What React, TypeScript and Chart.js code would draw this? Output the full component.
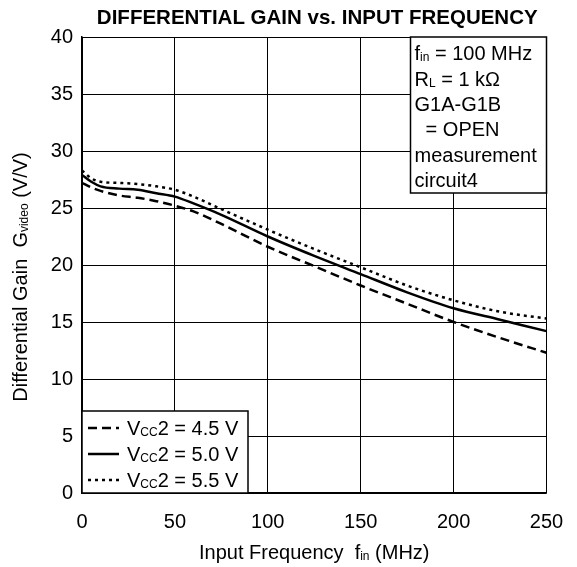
import React, { useEffect, useRef } from "react";
import { Chart, registerables } from "chart.js";

Chart.register(...registerables);

const freqMHz = [0, 5, 10, 20, 30, 40, 50, 60, 75, 100, 125, 150, 175, 200, 225, 250];
const gainVcc45 = [27.2, 26.8, 26.5, 26.1, 25.9, 25.6, 25.2, 24.7, 23.6, 21.6, 19.9, 18.2, 16.6, 15.0, 13.6, 12.3];
const gainVcc50 = [27.9, 27.3, 26.9, 26.7, 26.6, 26.3, 26.0, 25.4, 24.4, 22.5, 20.8, 19.2, 17.6, 16.2, 15.2, 14.2];
const gainVcc55 = [28.3, 27.6, 27.3, 27.2, 27.1, 26.9, 26.6, 26.0, 24.9, 23.1, 21.4, 19.8, 18.2, 16.9, 15.9, 15.3];

const seriesValues = ["4.5", "5.0", "5.5"];
const seriesDashes = [[9, 5], [], [3, 4]];

const xMin = 0, xMax = 250, xStep = 50;
const yMin = 0, yMax = 40, yStep = 5;

const chartTitle = "DIFFERENTIAL GAIN vs. INPUT FREQUENCY";
type Seg = { t: string; sub?: boolean };
const yTitle: Seg[] = [{ t: "Differential Gain  G" }, { t: "video", sub: true }, { t: " (V/V)" }];
const xTitle: Seg[] = [{ t: "Input Frequency  f" }, { t: "in", sub: true }, { t: " (MHz)" }];
const noteLines: Seg[][] = [
  [{ t: "f" }, { t: "in", sub: true }, { t: " = 100 MHz" }],
  [{ t: "R" }, { t: "L", sub: true }, { t: " = 1 k\u03A9" }],
  [{ t: "G1A-G1B" }],
  [{ t: "  = OPEN" }],
  [{ t: "measurement" }],
  [{ t: "circuit4" }],
];

const FONT = '"Liberation Sans", Arial, Helvetica, sans-serif';
const FS = 20;

function richWidth(ctx: CanvasRenderingContext2D, segs: Seg[], size: number) {
  let w = 0;
  for (const s of segs) {
    ctx.font = `${s.sub ? Math.round(size * 0.62) : size}px ${FONT}`;
    w += ctx.measureText(s.t).width;
  }
  return w;
}

function drawRich(ctx: CanvasRenderingContext2D, segs: Seg[], x: number, y: number, size: number) {
  ctx.textBaseline = "alphabetic";
  ctx.textAlign = "left";
  const base = y + size * 0.36;
  let cx = x;
  for (const s of segs) {
    const sz = s.sub ? Math.round(size * 0.62) : size;
    ctx.font = `${sz}px ${FONT}`;
    ctx.fillText(s.t, cx, s.sub ? base + size * 0.05 : base);
    cx += ctx.measureText(s.t).width;
  }
}

const overlay = {
  id: "overlay",
  afterDraw(chart: any) {
    const ctx: CanvasRenderingContext2D = chart.ctx;
    const ca = chart.chartArea;
    ctx.save();
    ctx.fillStyle = "#000";
    ctx.font = `bold 20.5px ${FONT}`;
    ctx.textAlign = "center";
    ctx.textBaseline = "middle";
    ctx.fillText(chartTitle, (ca.left + ca.right) / 2 + 3, 18);

    const xw = richWidth(ctx, xTitle, FS);
    drawRich(ctx, xTitle, (ca.left + ca.right) / 2 - xw / 2, 552, FS);

    const yw = richWidth(ctx, yTitle, FS);
    ctx.save();
    ctx.translate(20, (ca.top + ca.bottom) / 2 + 12);
    ctx.rotate(-Math.PI / 2);
    drawRich(ctx, yTitle, -yw / 2, 0, FS);
    ctx.restore();

    const bw = 136, bh = 156;
    const bx = ca.right - bw, by = ca.top;
    ctx.fillStyle = "#fff";
    ctx.fillRect(bx, by, bw, bh);
    ctx.strokeStyle = "#000";
    ctx.lineWidth = 1.5;
    ctx.strokeRect(bx, by, bw, bh);
    ctx.fillStyle = "#000";
    noteLines.forEach((ln, i) => drawRich(ctx, ln, bx + 4, by + 16 + i * 25.4, FS));

    const lx = ca.left, lw = 166, lh = 82, ly = ca.bottom - lh;
    ctx.fillStyle = "#fff";
    ctx.fillRect(lx, ly, lw, lh);
    ctx.strokeRect(lx, ly, lw, lh);
    chart.data.datasets.forEach((ds: any, i: number) => {
      const cy = ly + 17 + i * 26;
      ctx.save();
      ctx.strokeStyle = "#000";
      ctx.lineWidth = 2.5;
      ctx.setLineDash(ds.borderDash || []);
      ctx.beginPath();
      ctx.moveTo(lx + 6, cy);
      ctx.lineTo(lx + 37, cy);
      ctx.stroke();
      ctx.restore();
      ctx.fillStyle = "#000";
      drawRich(ctx, [{ t: "V" }, { t: "CC", sub: true }, { t: `2 = ${seriesValues[i]} V` }], lx + 45, cy, FS);
    });
    ctx.restore();
  },
};

export default function App() {
  const ref = useRef<HTMLCanvasElement>(null);
  useEffect(() => {
    if (!ref.current) return;
    const series = [gainVcc45, gainVcc50, gainVcc55];
    const chart = new Chart(ref.current, {
      type: "line",
      data: {
        datasets: series.map((vals, i) => ({
          label: `VCC2 = ${seriesValues[i]} V`,
          data: freqMHz.map((f, j) => ({ x: f, y: vals[j] })),
          borderColor: "#000",
          borderWidth: 2.5,
          borderDash: seriesDashes[i],
          pointRadius: 0,
          fill: false,
          cubicInterpolationMode: "monotone" as const,
        })),
      },
      options: {
        responsive: false,
        animation: false,
        layout: { padding: { top: 37, right: 30.5, left: 0, bottom: 0 } },
        plugins: { legend: { display: false }, title: { display: false }, tooltip: { enabled: false } },
        scales: {
          x: {
            type: "linear",
            min: xMin,
            max: xMax,
            afterFit: (s: any) => { s.height = 74; s.paddingLeft = 0; s.paddingRight = 0; },
            ticks: { stepSize: xStep, color: "#000", font: { family: FONT, size: FS }, padding: 17, maxRotation: 0 },
            grid: { color: "#000", lineWidth: 1, drawTicks: false },
            border: { color: "#000", width: 1.5 },
          },
          y: {
            min: yMin,
            max: yMax,
            afterFit: (s: any) => { s.width = 82; s.paddingTop = 0; s.paddingBottom = 0; },
            ticks: { stepSize: yStep, color: "#000", font: { family: FONT, size: FS }, padding: 9 },
            grid: { color: "#000", lineWidth: 1, drawTicks: false },
            border: { color: "#000", width: 1.5 },
          },
        },
      },
      plugins: [overlay],
    });
    return () => chart.destroy();
  }, []);
  return (
    <div style={{ position: "absolute", left: 0, top: 0, width: 577, height: 567, background: "#fff" }}>
      <canvas ref={ref} width={577} height={567} />
    </div>
  );
}
